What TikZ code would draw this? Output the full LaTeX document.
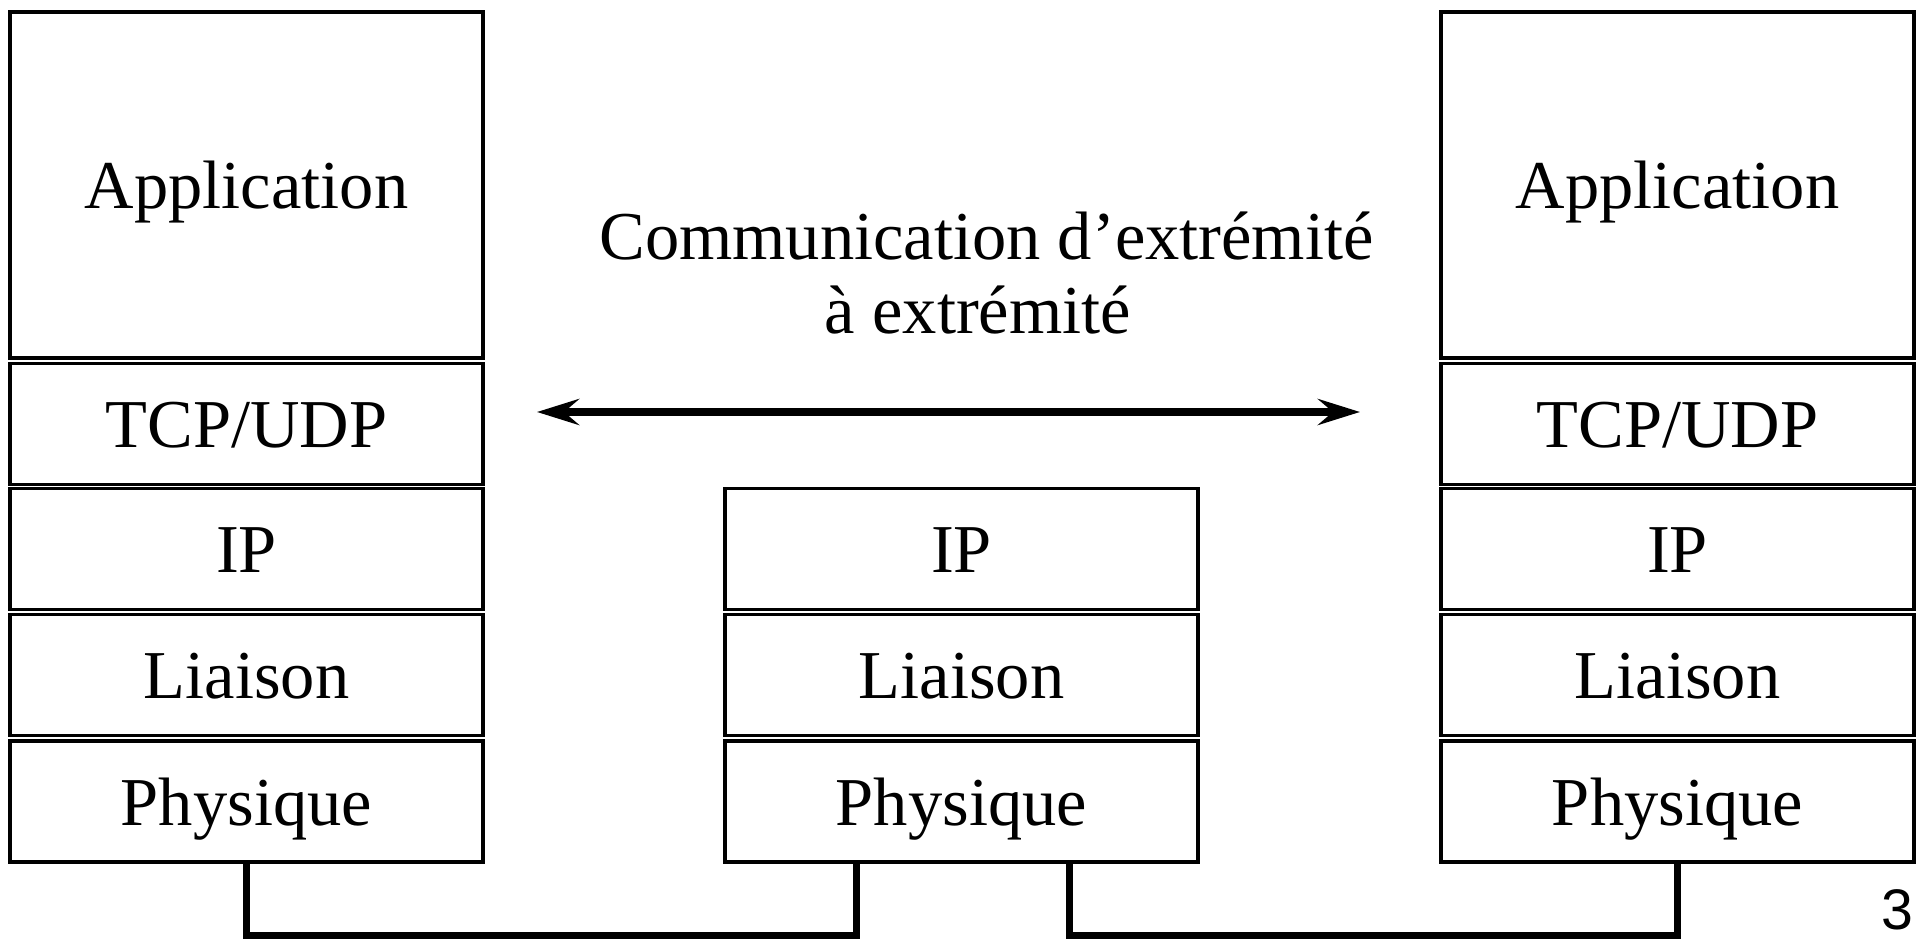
\documentclass[tikz,border=0pt]{standalone}
\usepackage{fontspec}
\setmainfont{Liberation Serif}
\newfontfamily\pagenumfont{Liberation Sans}
\usetikzlibrary{arrows.meta,calc}

\begin{document}
\begin{tikzpicture}[x=0.5pt,y=-0.5pt,
  labelfont/.style={font=\fontsize{34.25pt}{37pt}\selectfont},
  layer/.style={draw=black, line width=1.9pt, labelfont,
    minimum width=236.5pt, minimum height=60.5pt, inner sep=0pt,
    text height=24pt, text depth=0pt},
  applayer/.style={layer, minimum height=173pt},
  wire/.style={draw=black, line width=3.5pt, line join=miter},
  e2e/.style={line width=4.2pt,
    {Stealth[length=21pt,width=13pt,inset=7.5pt]}-{Stealth[length=21pt,width=13pt,inset=7.5pt]}}
]
\useasboundingbox (0,0) rectangle (1924,940);

% left host stack
\node[applayer] (Lapp) at (246.5,185)   {Application};
\node[layer]    (Ltcp) at (246.5,424)   {TCP/UDP};
\node[layer]    (Lip)  at (246.5,549)   {IP};
\node[layer]    (Llnk) at (246.5,675)   {Liaison};
\node[layer]    (Lphy) at (246.5,801.5) {Physique};

% router stack
\node[layer]    (Mip)  at (961.5,549)   {IP};
\node[layer]    (Mlnk) at (961.5,675)   {Liaison};
\node[layer]    (Mphy) at (961.5,801.5) {Physique};

% right host stack
\node[applayer] (Rapp) at (1677.5,185)   {Application};
\node[layer]    (Rtcp) at (1677.5,424)   {TCP/UDP};
\node[layer]    (Rip)  at (1677.5,549)   {IP};
\node[layer]    (Rlnk) at (1677.5,675)   {Liaison};
\node[layer]    (Rphy) at (1677.5,801.5) {Physique};

% end-to-end label and arrow
\node[labelfont, anchor=base, inner sep=0pt] (e2eA) at (986.5,260) {Communication d’extrémité};
\node[labelfont, anchor=base, inner sep=0pt] (e2eB) at (978,334) {à extrémité};
\coordinate (e2eL) at (537,412);
\coordinate (e2eR) at (1360,412);
\draw[e2e] (e2eL) -- (e2eR);

% physical links
\coordinate (busy) at (0,935);
\coordinate (MphyL) at ($(Mphy.south)+(-105.5,0)$);
\coordinate (MphyR) at ($(Mphy.south)+(107.5,0)$);
\draw[wire] (Lphy.south) -- (Lphy.south |- busy) -- (MphyL |- busy) -- (MphyL);
\draw[wire] (MphyR) -- (MphyR |- busy) -- (Rphy.south |- busy) -- (Rphy.south);

% page number
\node[anchor=base east, inner sep=0pt, font=\pagenumfont\fontsize{28.6pt}{30pt}\selectfont] (pagenum) at (1914,929) {3};
\end{tikzpicture}
\end{document}
